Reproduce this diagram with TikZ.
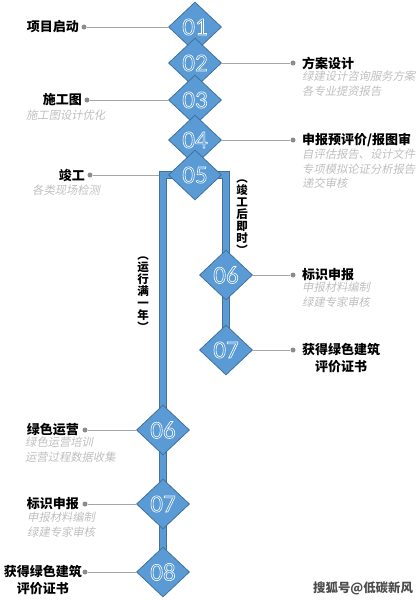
\documentclass[tikz,border=0pt]{standalone}
\usepackage{fontspec}
\setmainfont{Carlito}
\newfontfamily\cjk{Noto Sans CJK SC}
\newfontfamily\cjksl[FakeSlant=0.2]{Noto Sans CJK SC}
\usetikzlibrary{shapes.geometric,positioning,backgrounds}
\definecolor{stepblue}{HTML}{5B9BD5}
\definecolor{stepedge}{HTML}{41719C}
\definecolor{leadgray}{HTML}{A6A6A6}
\definecolor{dotgray}{HTML}{8C8C8C}
\definecolor{notegray}{HTML}{BFBFBF}
% outlined digits in the diamonds
\newcommand{\hollownum}[1]{\special{pdf:literal direct 1 Tr 0.6 w 1 1 1 RG}#1\special{pdf:literal direct 0 Tr}}

\begin{document}
\begin{tikzpicture}[x=1pt,y=-1pt,
	stage/.style={diamond,draw=stepedge,line width=0.8pt,fill=stepblue,inner sep=0pt,
		minimum width=53pt,minimum height=50pt,font=\fontsize{25}{25}\selectfont},
	pipe/.style={draw=stepedge,line width=0.9pt,double=stepblue,double distance=6.6pt,line join=miter},
	leaddot/.style={circle,fill=dotgray,inner sep=0pt,minimum size=5pt},
	lead/.style={leadgray,line width=1pt},
	title/.style={font=\cjk\bfseries\fontsize{13}{17}\selectfont,inner sep=0pt,align=center},
	note/.style={font=\cjksl\fontsize{11.3}{14.5}\selectfont,text=notegray,inner sep=0pt,align=left},
	vnote/.style={font=\cjk\bfseries\fontsize{11.5}{12}\selectfont,inner sep=0pt,align=center}
	]
	\useasboundingbox (0,0) rectangle (418,600);

	% main line
	\node[stage] (d1) at (195,27) {\hollownum{01}};
	\node[stage] (d2) at (195,63) {\hollownum{02}};
	\node[stage] (d3) at (195,100) {\hollownum{03}};
	\node[stage] (d4) at (195,140) {\hollownum{04}};
	\node[stage] (d5) at (195,175) {\hollownum{05}};

	% right branch
	\node[stage] (r6) at (226,275) {\hollownum{06}};
	\node[stage] (r7) at (226,350) {\hollownum{07}};

	% left branch
	\node[stage] (l6) at (163,430) {\hollownum{06}};
	\node[stage] (l7) at (163,504) {\hollownum{07}};
	\node[stage] (l8) at (163,572) {\hollownum{08}};

	\begin{pgfonlayer}{background}
		\draw[pipe] (l8.center) -- (l6.center |- d5.center) -- (r7.center |- d5.center) -- (r7.center);
	\end{pgfonlayer}
	\coordinate (w5) at (158.5,175);

	% labels left
	\node[leaddot] (p1) at (84,27){};
	\node[title,anchor=east] (t1) at (79,27) {项目启动};
	\draw[lead] (p1) -- (d1.west);

	\node[leaddot] (p3) at (87,100){};
	\node[title,anchor=east] (t3) at (82,100) {施工图};
	\node[note,anchor=north west] at (26,110) {施工图设计优化};
	\draw[lead] (p3) -- (d3.west);

	\node[leaddot] (p5) at (90,175){};
	\node[title,anchor=east] (t5) at (85,175) {竣工};
	\node[note,anchor=north west] at (32,185) {各类现场检测};
	\draw[lead] (p5) -- (w5);

	\node[leaddot] (q6) at (85,430){};
	\node[title,anchor=east] (s6) at (79,430) {绿色运营};
	\node[note,anchor=north west,text depth=0pt] at (25,437) {绿色运营培训\\运营过程数据收集};
	\draw[lead] (q6) -- (l6.west);

	\node[leaddot] (q7) at (85,504){};
	\node[title,anchor=east] (s7) at (79,504) {标识申报};
	\node[note,anchor=north west] at (27,512) {申报材料编制\\绿建专家审核};
	\draw[lead] (q7) -- (l7.west);

	\node[leaddot] (q8) at (85,572){};
	\node[title,anchor=north east] (s8) at (82,565) {获得绿色建筑\\评价证书};
	\draw[lead] (q8) -- (l8.west);

	% labels right
	\node[leaddot] (p2) at (293,63){};
	\node[title,anchor=west] (t2) at (302,63) {方案设计};
	\node[note,anchor=north west] at (302,71) {绿建设计咨询服务方案\\各专业提资报告};
	\draw[lead] (d2.east) -- (p2);

	\node[leaddot] (p4) at (293,140){};
	\node[title,anchor=west] (t4) at (302,140) {申报预评价/报图审};
	\node[note,anchor=north west] at (302,149) {自评估报告、设计文件\\专项模拟论证分析报告\\递交审核};
	\draw[lead] (d4.east) -- (p4);

	\node[leaddot] (q6r) at (293,275){};
	\node[title,anchor=west] (s6r) at (302,275) {标识申报};
	\node[note,anchor=north west] at (302,282) {申报材料编制\\绿建专家审核};
	\draw[lead] (r6.east) -- (q6r);

	\node[leaddot] (q7r) at (293,350){};
	\node[title,anchor=north west] (s7r) at (302,343.5) {获得绿色建筑\\评价证书};
	\draw[lead] (r7.east) -- (q7r);

	% branch notes
	\node[vnote] (v1) at (242,217) {︵\\竣\\工\\后\\即\\时\\︶};
	\node[vnote] (v2) at (143,294) {︵\\运\\行\\满\\一\\年\\︶};

	\node[font=\cjk\bfseries\fontsize{12.4}{13}\selectfont,text=black!70,anchor=west,inner sep=0pt] (wm) at (313,588) {搜狐号@低碳新风};

\end{tikzpicture}
\end{document}
